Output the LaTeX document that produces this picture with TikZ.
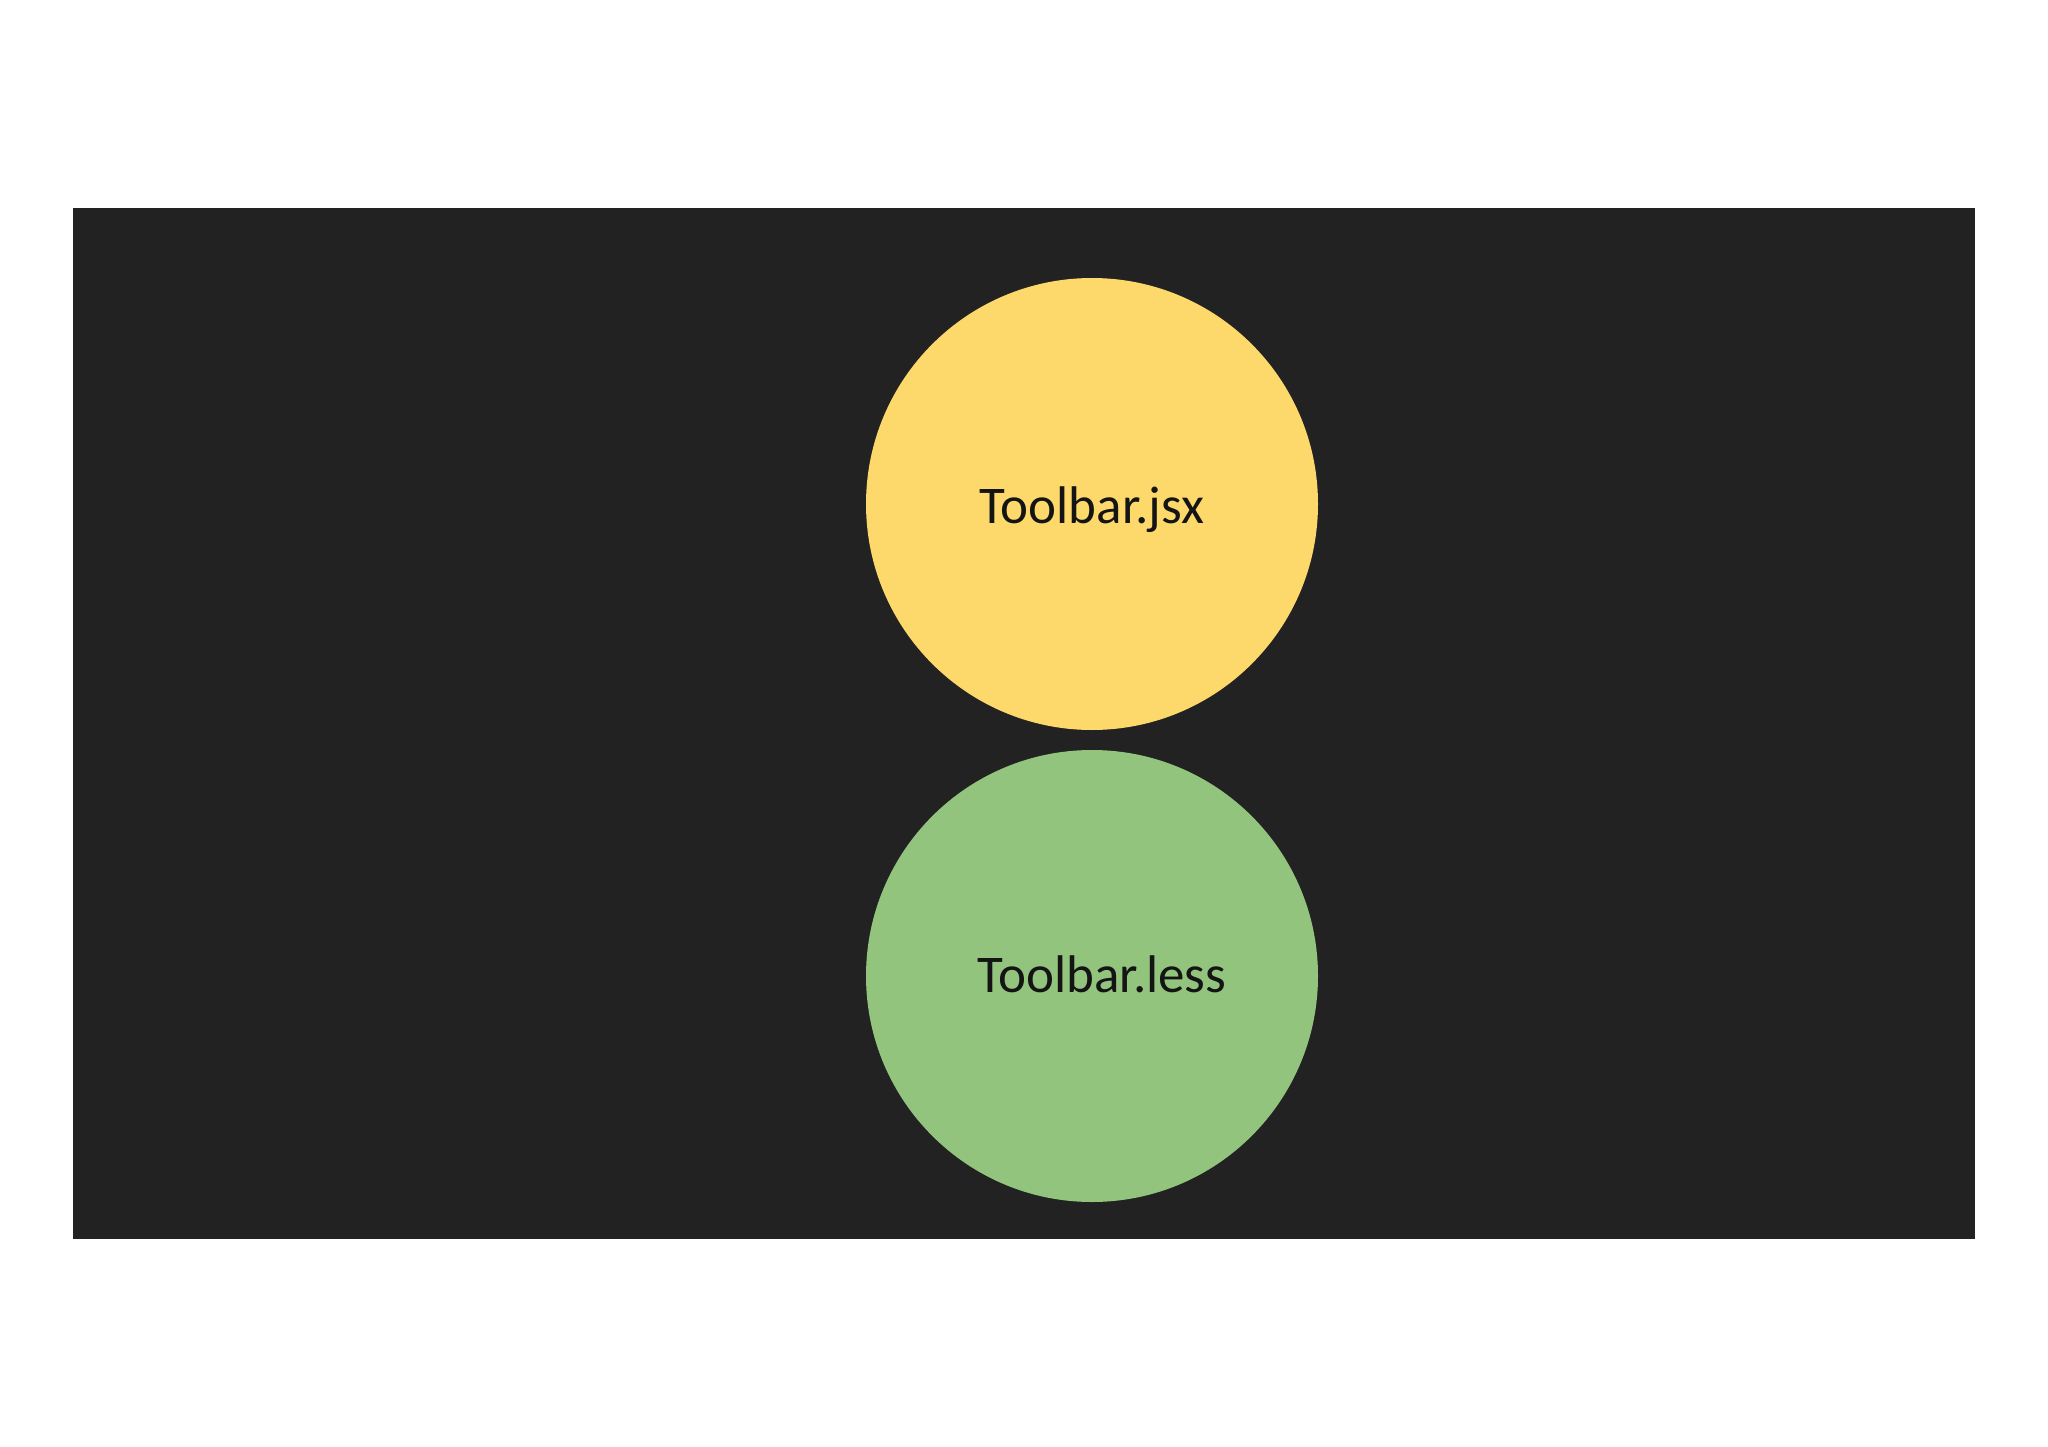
\documentclass[tikz,border=0pt]{standalone}
\usepackage{fontspec}
\setmainfont{Carlito}
\definecolor{bgdark}{HTML}{222222}
\definecolor{yel}{HTML}{FDD86A}
\definecolor{grn}{HTML}{93C47D}
\definecolor{txt}{HTML}{141414}
\begin{document}
\begin{tikzpicture}[x=1pt,y=-1pt,
  disc/.style={circle,draw=none,minimum size=452pt,inner sep=0pt},
  lbl/.style={anchor=base,text=txt,inner sep=0pt,font=\fontsize{53}{60}\selectfont}]
\useasboundingbox (0,0) rectangle (2048,1447);
\fill[white] (0,0) rectangle (2048,1447);
\fill[bgdark] (73,208) rectangle (1975,1239);
\node[disc,fill=yel] (jsx) at (1092,504) {};
\node[disc,fill=grn] (less) at (1092,976) {};
\node[lbl] (jsxlbl) at (1092,523) {Toolbar.jsx};
\node[lbl] (lesslbl) at (1102,992) {Toolbar.less};
\end{tikzpicture}
\end{document}
